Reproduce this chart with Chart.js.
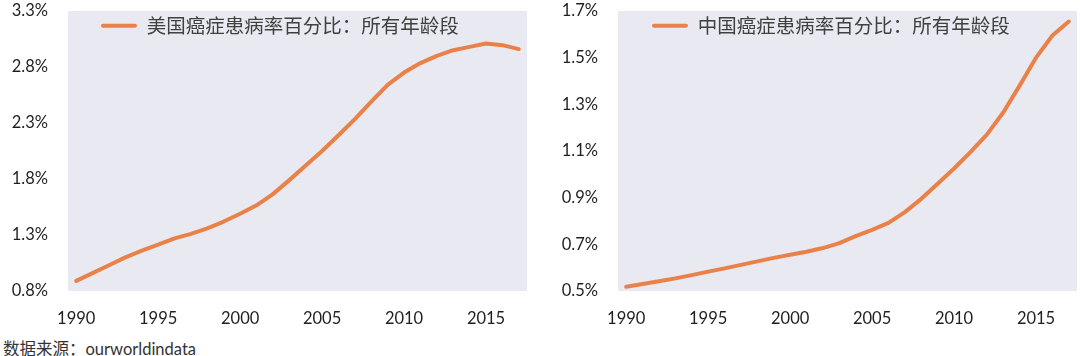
<!DOCTYPE html>
<html>
<head>
<meta charset="utf-8">
<script src="https://cdn.jsdelivr.net/npm/chart.js@4/dist/chart.umd.min.js"></script>
<style>
  html, body { margin: 0; padding: 0; background: #ffffff; width: 1080px; height: 356px; overflow: hidden; }
  .box { position: absolute; top: 0; width: 540px; height: 335px; }
  #src { position: absolute; left: 3px; top: 339px; font-size: 16.5px; line-height: 20px; color: #333333;
         font-family: Lato, "Noto Sans CJK SC", sans-serif; white-space: nowrap; }
</style>
</head>
<body>
<div class="box" style="left:0"><canvas id="us"></canvas></div>
<div class="box" style="left:540px"><canvas id="cn"></canvas></div>
<div id="src">数据来源：ourworldindata</div>
<script>
const years = [1990,1991,1992,1993,1994,1995,1996,1997,1998,1999,2000,2001,2002,2003,2004,2005,2006,2007,2008,2009,2010,2011,2012,2013,2014,2015,2016,2017];
const usValues = [0.89,0.96,1.03,1.10,1.16,1.215,1.27,1.31,1.36,1.42,1.49,1.565,1.665,1.79,1.92,2.05,2.19,2.335,2.49,2.64,2.75,2.835,2.90,2.95,2.98,3.01,2.995,2.96];
const cnValues = [0.518,0.53,0.542,0.554,0.568,0.583,0.597,0.612,0.627,0.642,0.655,0.668,0.684,0.705,0.735,0.762,0.792,0.838,0.895,0.96,1.025,1.095,1.17,1.265,1.38,1.50,1.595,1.655];
const usLabel = "美国癌症患病率百分比：所有年龄段";
const cnLabel = "中国癌症患病率百分比：所有年龄段";
const usTicks = {min: 0.8, max: 3.3, step: 0.5};
const cnTicks = {min: 0.5, max: 1.7, step: 0.2};
const xTickYears = [1990,1995,2000,2005,2010,2015];

const ORANGE = '#EA8148';
const PLOT_BG = '#E9E9F1';

const plotBg = {
  id: 'plotBg',
  beforeDraw(chart) {
    const a = chart.chartArea, ctx = chart.ctx;
    ctx.save(); ctx.fillStyle = PLOT_BG;
    ctx.fillRect(a.left, a.top, a.right - a.left, a.bottom - a.top);
    ctx.restore();
  }
};
const legendShift = {
  id: 'legendShift',
  afterLayout(chart, args, opts) {
    const lg = chart.legend; if (!lg) return;
    lg.left = chart.chartArea.left + (opts.dx || 0);
    lg.top = chart.chartArea.top + (opts.dy || 0);
  }
};

function makeChart(id, label, values, yt, yWidth, padRight, dx) {
  new Chart(document.getElementById(id), {
    type: 'line',
    data: {
      labels: years.map(String),
      datasets: [{
        label: label, data: values,
        borderColor: ORANGE, backgroundColor: ORANGE,
        borderWidth: 4, pointRadius: 0, tension: 0,
        borderCapStyle: 'round', borderJoinStyle: 'round'
      }]
    },
    options: {
      responsive: true, maintainAspectRatio: false, animation: false,
      layout: { padding: { top: 11, right: padRight, left: 0, bottom: 0 } },
      scales: {
        x: {
          type: 'category', offset: true,
          grid: { display: false, drawTicks: true, tickLength: 17.5 }, border: { display: false },
          ticks: {
            autoSkip: false, maxRotation: 0, padding: 0,
            color: '#1f1f1f', font: { family: 'Lato', size: 16.5 },
            callback(v, i) { const y = years[i]; return xTickYears.includes(y) ? String(y) : ''; }
          },
          afterFit(s) { s.height = 44; }
        },
        y: {
          min: yt.min, max: yt.max,
          grid: { display: false, drawTicks: true, tickLength: 20 }, border: { display: false },
          ticks: {
            stepSize: yt.step, padding: 0,
            color: '#1f1f1f', font: { family: 'Lato', size: 16.5 },
            callback(v) { return Number(v).toFixed(1) + '%'; }
          },
          afterFit(s) { s.width = yWidth; }
        }
      },
      plugins: {
        legend: {
          position: 'chartArea', align: 'start',
          labels: {
            boxWidth: 36, boxHeight: 4, padding: 5,
            color: '#404040', font: { family: '"Noto Sans CJK SC"', size: 19.5 },
            generateLabels(chart) {
              const items = Chart.defaults.plugins.legend.labels.generateLabels(chart);
              return items.map(it => Object.assign(it, { fillStyle: ORANGE, lineWidth: 0, borderRadius: 2 }));
            }
          }
        },
        legendShift: { dx: dx, dy: 0 },
        tooltip: { enabled: false }
      }
    },
    plugins: [plotBg, legendShift]
  });
}

makeChart('us', usLabel, usValues, usTicks, 68, 13, 28);
makeChart('cn', cnLabel, cnValues, cnTicks, 78, 3, 29);
</script>
</body>
</html>
